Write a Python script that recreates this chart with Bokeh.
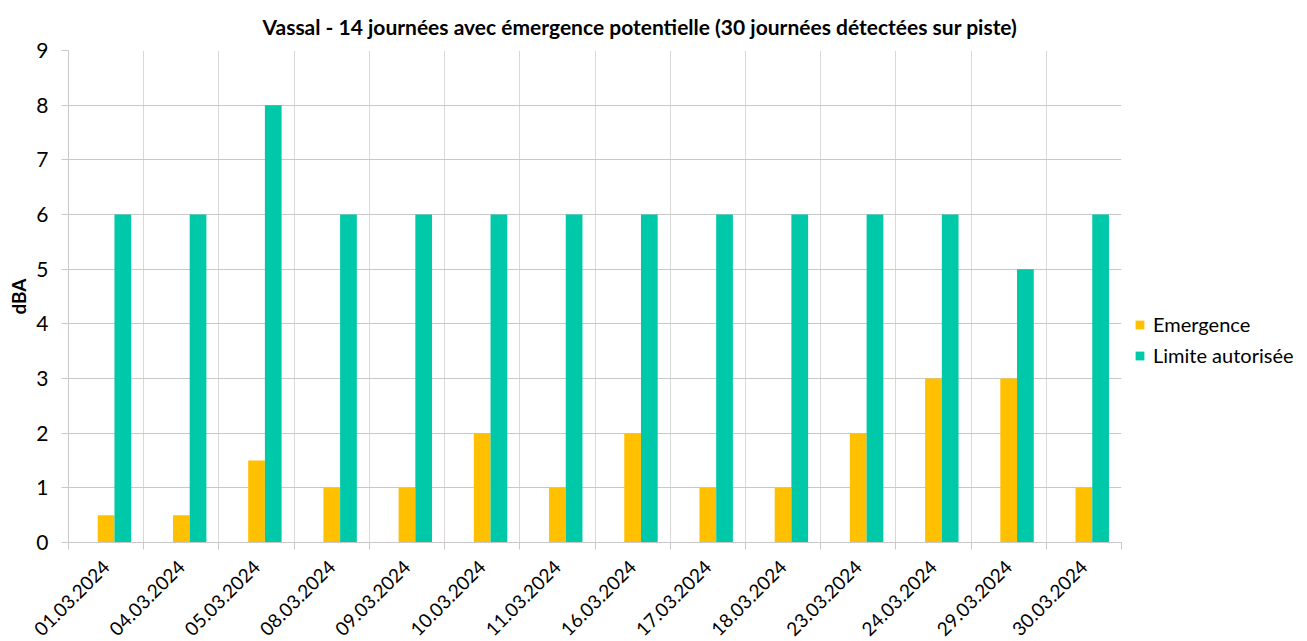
import numpy as np
from bokeh.plotting import figure
from bokeh.models import (ColumnDataSource, FixedTicker, Legend, LegendItem,
                          Range1d)
from bokeh.embed import file_html
from bokeh.resources import INLINE
from bokeh.transform import dodge

dates = ["01.03.2024", "04.03.2024", "05.03.2024", "08.03.2024", "09.03.2024",
         "10.03.2024", "11.03.2024", "16.03.2024", "17.03.2024", "18.03.2024",
         "23.03.2024", "24.03.2024", "29.03.2024", "30.03.2024"]
emergence = [0.5, 0.5, 1.5, 1, 1, 2, 1, 2, 1, 1, 2, 3, 3, 1]
limite = [6, 6, 8, 6, 6, 6, 6, 6, 6, 6, 6, 6, 5, 6]
y_ticks = [0, 1, 2, 3, 4, 5, 6, 7, 8, 9]

title_text = "Vassal - 14 journées avec émergence potentielle (30 journées détectées sur piste)"
FONT = "Lato"
ORANGE = "#FFC000"
TEAL = "#00C9A9"
GRID = "#C8C8C8"

n = len(dates)
xc = [i + 0.5 for i in range(n)]
src = ColumnDataSource(dict(x=xc, em=emergence, lim=limite))

p = figure(frame_width=1053, frame_height=492,
           x_range=Range1d(0, n), y_range=Range1d(0, max(y_ticks)),
           output_backend="svg", toolbar_location=None,
           min_border_left=68, min_border_top=30, min_border_right=168,
           min_border_bottom=88)
p.outline_line_color = None
p.background_fill_color = "white"
p.border_fill_color = "white"

p.title.text = title_text
p.title.align = "left"
p.title.offset = 194
p.title.standoff = 23
p.title.text_font = FONT
p.title.text_font_size = "21px"
p.title.text_font_style = "bold"
p.title.text_color = "black"

bw = 2 / 9
r_em = p.vbar(x=dodge("x", 0.0), top="em", width=bw, source=src,
              fill_color=ORANGE, line_color=None)
r_lim = p.vbar(x=dodge("x", bw), top="lim", width=bw, source=src,
               fill_color=TEAL, line_color=None)

# grids
p.xgrid.ticker = FixedTicker(ticks=list(range(n + 1)))
p.ygrid.ticker = FixedTicker(ticks=y_ticks)
p.xgrid.grid_line_color = "#D9D9D9"
p.ygrid.grid_line_color = GRID

# x axis
xa = p.xaxis[0]
xa.ticker = FixedTicker(ticks=xc, minor_ticks=list(range(n + 1)))
xa.major_label_overrides = {float(x): d for x, d in zip(xc, dates)}
xa.major_tick_line_color = None
xa.major_tick_out = 0
xa.major_tick_in = 0
xa.minor_tick_out = 7
xa.minor_tick_in = 0
xa.minor_tick_line_color = GRID
xa.axis_line_color = GRID
xa.major_label_orientation = np.pi / 4
xa.major_label_standoff = 14
xa.major_label_text_font = FONT
xa.major_label_text_font_size = "19px"
xa.major_label_text_color = "black"

# y axis
ya = p.yaxis[0]
ya.ticker = FixedTicker(ticks=y_ticks)
ya.minor_tick_line_color = None
ya.major_tick_out = 7
ya.major_tick_in = 0
ya.major_tick_line_color = GRID
ya.axis_line_color = GRID
ya.major_label_standoff = 13
ya.major_label_text_font = FONT
ya.major_label_text_font_size = "21px"
ya.major_label_text_color = "black"
ya.axis_label = "dBA"
ya.axis_label_text_font = FONT
ya.axis_label_text_font_size = "19px"
ya.axis_label_text_font_style = "bold"
ya.axis_label_text_color = "black"
ya.axis_label_standoff = 3

legend = Legend(items=[LegendItem(label="Emergence", renderers=[r_em]),
                       LegendItem(label="Limite autorisée", renderers=[r_lim])],
                location=(13, 175), orientation="vertical")
legend.glyph_width = 11
legend.glyph_height = 11
legend.label_height = 22
legend.spacing = 7
legend.padding = 5
legend.margin = 0
legend.label_standoff = 8
legend.label_text_font = FONT
legend.label_text_font_size = "20px"
legend.label_text_color = "black"
legend.border_line_color = None
legend.background_fill_alpha = 0
p.add_layout(legend, "right")

open("out.html", "w").write(file_html(p, INLINE))
